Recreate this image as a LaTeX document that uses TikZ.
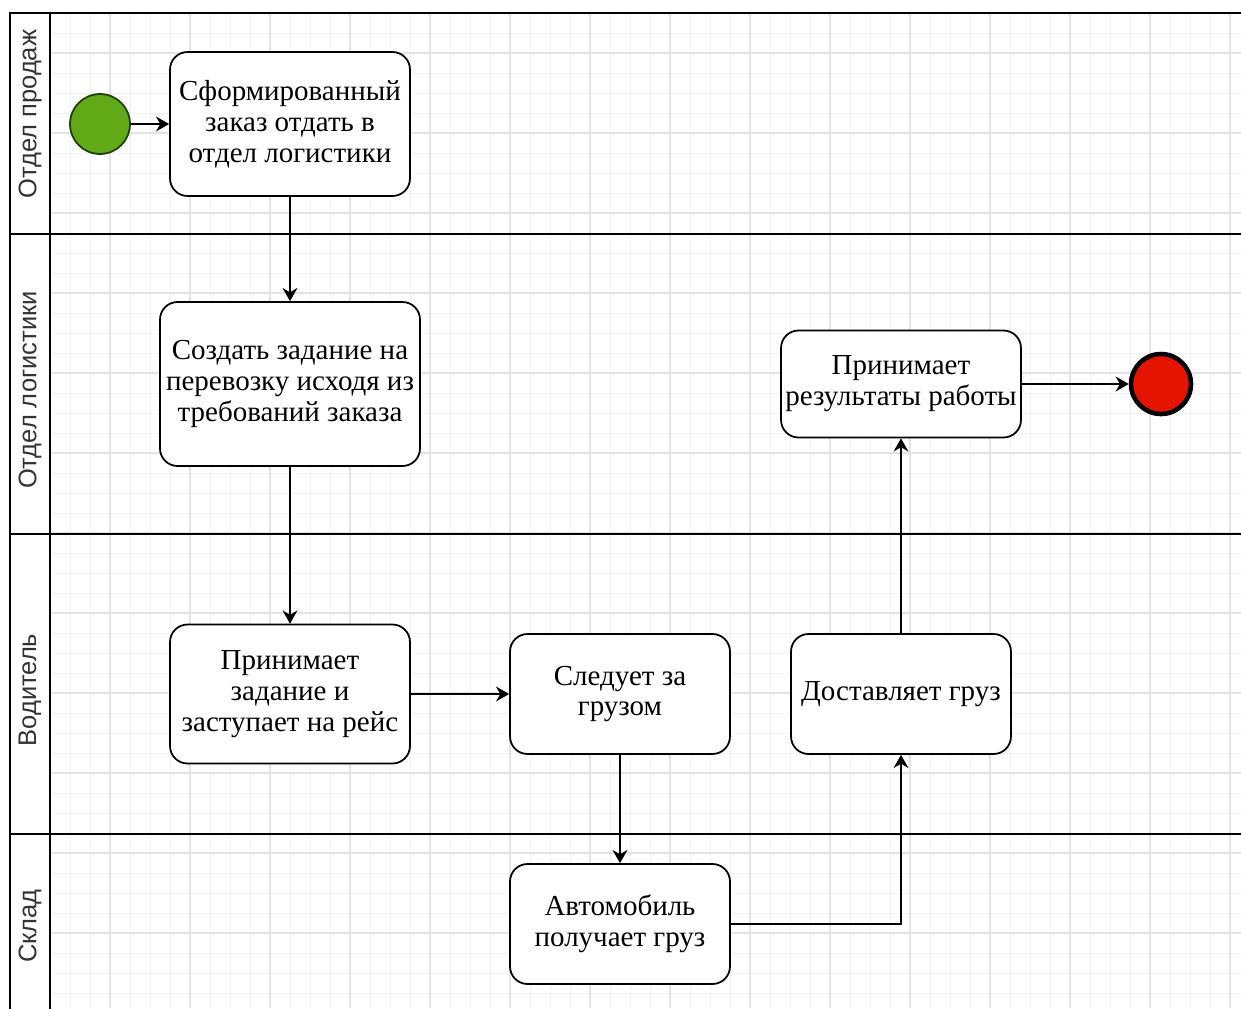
\documentclass[tikz,border=0pt]{standalone}
\usepackage{fontspec}
\setmainfont{Liberation Serif}
\setsansfont{Liberation Sans}
\usetikzlibrary{shapes,arrows.meta,positioning}

\definecolor{startgreen}{HTML}{60A917}
\definecolor{startline}{HTML}{1F3F0A}
\definecolor{endred}{HTML}{E51400}
\definecolor{gridminor}{HTML}{F2F2F2}
\definecolor{gridmajor}{HTML}{E3E3E3}
\definecolor{lanetext}{HTML}{333333}

\begin{document}
\begin{tikzpicture}[
    x=0.02cm, y=-0.02cm,
    task/.style={draw, line width=1pt, rounded corners=0.35cm, fill=white, align=center, inner sep=0pt,
        font=\fontsize{16.5}{17.5}\selectfont},
    startev/.style={circle, draw=startline, line width=1pt, fill=startgreen, minimum size=1.2cm, inner sep=0pt},
    endev/.style={circle, draw=black, line width=2.6pt, fill=endred, minimum size=1.2cm, inner sep=0pt},
    lane/.style={line width=0.9pt},
    lanelabel/.style={rotate=90, text=lanetext, font=\sffamily\fontsize{14.5}{16}\selectfont},
    arrow/.style={-{Stealth[length=7.5pt,width=8.5pt,inset=2.5pt]}, line width=0.9pt}
]
\useasboundingbox (0,0) rectangle (1241,1008);
\clip (0,0) rectangle (1241,1008);

% grid
\foreach \gx in {70,90,...,1240} \draw[gridminor, line width=0.5pt] (\gx,13) -- (\gx,1008);
\foreach \gy in {33,53,...,1008} \draw[gridminor, line width=0.5pt] (50,\gy) -- (1241,\gy);
\foreach \gx in {110,190,...,1240} \draw[gridmajor, line width=0.6pt] (\gx,13) -- (\gx,1008);
\foreach \gy in {53,133,...,1008} \draw[gridmajor, line width=0.6pt] (50,\gy) -- (1241,\gy);

% pool and lanes
\draw[lane] (10,1030) -- (10,13) -- (1260,13);
\draw[lane] (50,13) -- (50,1030);
\draw[lane] (10,234) -- (1260,234);
\draw[lane] (10,534) -- (1260,534);
\draw[lane] (10,834) -- (1260,834);

\node[lanelabel] (sales) at (30,114) {Отдел продаж};
\node[lanelabel] (logist) at (30,390) {Отдел логистики};
\node[lanelabel] (driver) at (30,690) {Водитель};
\node[lanelabel] (store) at (30,926) {Склад};

% events and tasks
\node[startev] (start) at (100,124) {};
\node[task, minimum width=4.8cm, minimum height=2.88cm] (order) at (290,124) {Сформированный\\заказ отдать в\\отдел логистики};
\node[task, minimum width=5.2cm, minimum height=3.28cm] (job) at (290,384) {Создать задание на\\перевозку исходя из\\требований заказа};
\node[task, minimum width=4.8cm, minimum height=2.78cm] (accept) at (290,694) {Принимает\\задание и\\заступает на рейс};
\node[task, minimum width=4.4cm, minimum height=2.4cm] (follow) at (620,694) {Следует за\\грузом};
\node[task, minimum width=4.4cm, minimum height=2.4cm] (deliver) at (901,694) {Доставляет груз};
\node[task, minimum width=4.4cm, minimum height=2.4cm] (car) at (620,924) {Автомобиль\\получает груз};
\node[task, minimum width=4.8cm, minimum height=2.14cm] (result) at (901,384) {Принимает\\результаты работы};
\node[endev] (finish) at (1161,384) {};

% flow
\draw[arrow] (start) -- (order);
\draw[arrow] (order) -- (job);
\draw[arrow] (job) -- (accept);
\draw[arrow] (accept) -- (follow);
\draw[arrow] (follow) -- (car);
\draw[arrow] (car.east) -| (deliver.south);
\draw[arrow] (deliver) -- (result);
\draw[arrow] (result) -- (finish);
\end{tikzpicture}
\end{document}
